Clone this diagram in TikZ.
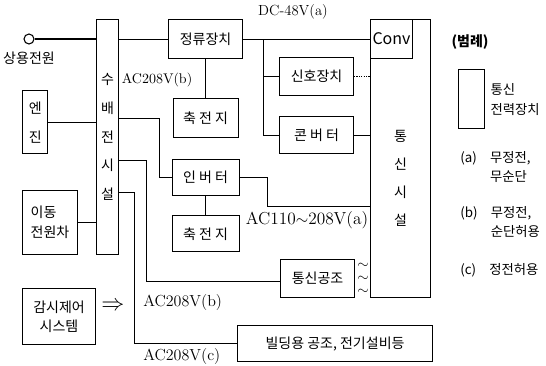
\documentclass[tikz,border=0pt]{standalone}
\usepackage{fontspec}
\usepackage{tikz}
\usetikzlibrary{positioning,calc}
\newfontfamily\kr{Noto Sans CJK KR}

\begin{document}
\begin{tikzpicture}[
  x=0.75pt, y=-0.75pt,
  every node/.style={font=\kr\fontsize{10.5}{12}\selectfont},
  box/.style={draw, line width=0.8pt, inner sep=0pt, align=center},
  vbox/.style={box, font=\kr\fontsize{10.5}{21.5}\selectfont},
  wire/.style={line width=0.8pt},
  volt/.style={font=\rmfamily\fontsize{10.5}{12}\selectfont, inner sep=0pt},
  bigvolt/.style={font=\rmfamily\fontsize{12}{14}\selectfont, inner sep=0pt},
  note/.style={align=left, inner sep=0pt, font=\kr\fontsize{10}{14.5}\selectfont}
]
\useasboundingbox (0,0) rectangle (546,365);

% sources and switchgear
\node[draw, circle, line width=0.8pt, minimum size=7.5pt, inner sep=0pt] (src) at (29,39) {};
\node[below=5pt of src, inner sep=0pt] (srclbl) {상용전원};
\node[vbox, minimum width=16.5pt, minimum height=176.25pt, anchor=north west] (swg) at (96,19) {수\\배\\전\\시\\설};
\node[vbox, minimum width=18.75pt, minimum height=47.25pt, anchor=north west] (eng) at (22.4,90.4) {엔\\진};
\node[box, align=left, font=\kr\fontsize{10.5}{15}\selectfont,
      minimum width=41.25pt, minimum height=48pt, anchor=north west] (mob) at (22,190) {이동\\전원차};
\node[box, font=\kr\fontsize{10.5}{14.5}\selectfont,
      minimum width=54.75pt, minimum height=42pt, anchor=north west] (mon) at (22,288) {감시제어\\시스템};

% DC side
\node[box, minimum width=55.5pt, minimum height=29.25pt, anchor=north west] (rect) at (168,19) {정류장치};
\node[box, minimum width=48.75pt, minimum height=29.25pt, below=29.25pt of rect] (bat1) {축 전 지};
\node[box, minimum width=55.5pt, minimum height=28.5pt, anchor=north west] (sig) at (279,57) {신호장치};
\node[box, minimum width=55.5pt, minimum height=27.75pt, below=15pt of sig] (conv2) {콘 버 터};

% AC side
\node[box, minimum width=50.25pt, minimum height=27pt, below=15.75pt of bat1] (inv) {인 버 터};
\node[box, minimum width=50.25pt, minimum height=27pt, below=14.25pt of inv] (bat2) {축 전 지};
\node[box, minimum width=55.5pt, minimum height=28.5pt, anchor=north west] (hvac) at (280,259) {통신공조};
\node[box, minimum width=146.25pt, minimum height=27pt, anchor=north west] (bldg) at (237,325) {빌딩용 공조, 전기설비등};

% communication facility
\node[box, minimum width=45pt, minimum height=208.5pt, anchor=north west] (comm) at (370,19) {};
\node[box, font=\kr\fontsize{12}{14}\selectfont, minimum width=31.5pt, minimum height=29.25pt,
      anchor=north west] (conv) at (comm.north west) {Conv};
\node[align=center, inner sep=0pt, font=\kr\fontsize{10.5}{21}\selectfont] (commtxt)
  at ($(conv.south -| comm.center)!0.5!(comm.south)$) {통\\신\\시\\설};

% wiring
\draw[wire] (src) -- (src -| swg.west);
\draw[wire] (eng) -- (eng -| swg.west);
\draw[wire] (mob) -- (mob -| swg.west);
\draw[wire] (rect.west -| swg.east) -- (rect);
\draw[wire] (rect) -- (rect -| conv.west);
\coordinate (dcbus) at ($(rect.east)+(20,0)$);
\draw[wire] (dcbus) |- (sig);
\draw[wire] (dcbus) |- (conv2);
\draw[wire, densely dotted] (sig) -- (sig -| comm.west);
\draw[wire] (conv2) -- (conv2 -| comm.west);
\draw[wire] (rect) -- (bat1);
\draw[wire] (inv) -- (bat2);
\draw[wire] (swg.east |- bat1.west) -- ++(40,0) |- (inv);
\coordinate (acbus) at ($(inv.east)+(28,28.5)$);
\draw[wire] (inv) -| (acbus) -- (acbus -| comm.west);
\draw[wire] ($(swg.east)+(0,23.5)$) -- ++(27,0) |- ([yshift=-2pt]hvac.west);
\draw[wire] ($(swg.east)+(0,55.5)$) -- ++(15,0) |- (bldg);

% voltage labels
\node[volt, font=\rmfamily\fontsize{11}{13}\selectfont] (dc) at (293,12) {DC-48V(a)};
\node[volt] (acb1) at (157,80) {AC208V(b)};
\node[volt, font=\rmfamily\fontsize{13}{15}\selectfont] (aca) at (307,220) {AC110$\sim$208V(a)};
\node[bigvolt, anchor=west] (acb2) at (143,302) {AC208V(b)};
\node[bigvolt, anchor=west] (acc) at (143,356) {AC208V(c)};
\foreach \y [count=\i] in {266,279,292}
  \node[volt] (tl\i) at (363,\y) {$\sim$};
\node[inner sep=0pt, font=\fontsize{16}{16}\selectfont] (imp) at (113,306) {$\Rightarrow$};

% legend
\node[font=\kr\bfseries\fontsize{10.5}{12}\selectfont] (lgtitle) at (470,42) {(범례)};
\node[box, minimum width=19.5pt, minimum height=44.25pt, anchor=north west] (lgbox) at (458,69) {};
\node[note, right=4pt of lgbox, font=\kr\fontsize{10}{15}\selectfont] (lgtext) {통신\\전력장치};
\node[note, anchor=west] (lga) at (460,167.5) {(a)\quad 무정전,\\\phantom{(a)}\quad 무순단};
\node[note, anchor=west] (lgb) at (460,223) {(b)\quad 무정전,\\\phantom{(b)}\quad 순단허용};
\node[note, anchor=west] (lgc) at (460,270) {(c)\quad 정전허용};
\end{tikzpicture}
\end{document}
